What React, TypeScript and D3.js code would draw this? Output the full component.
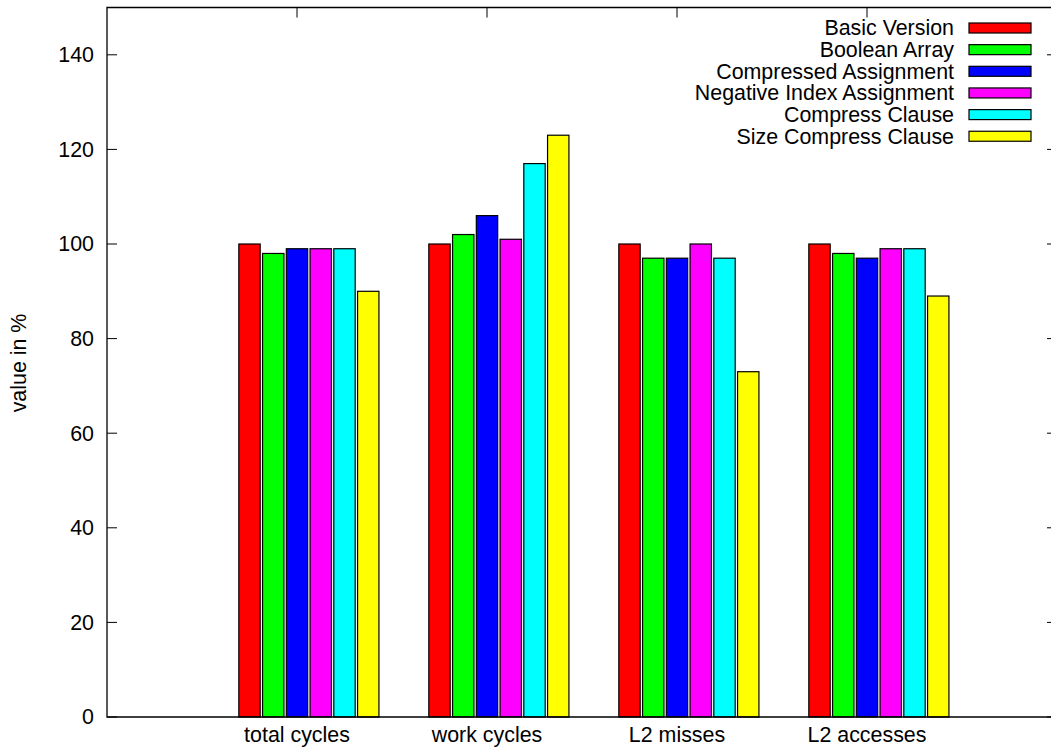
import React from "react";
import * as d3 from "d3";

const categories = ["total cycles", "work cycles", "L2 misses", "L2 accesses"];
const seriesNames = [
  "Basic Version",
  "Boolean Array",
  "Compressed Assignment",
  "Negative Index Assignment",
  "Compress Clause",
  "Size Compress Clause",
];
const seriesColors = ["#ff0000", "#00ff00", "#0000ff", "#ff00ff", "#00ffff", "#ffff00"];
const basicVersion = [100, 100, 100, 100];
const booleanArray = [98, 102, 97, 98];
const compressedAssignment = [99, 106, 97, 97];
const negativeIndexAssignment = [99, 101, 100, 99];
const compressClause = [99, 117, 97, 99];
const sizeCompressClause = [90, 123, 73, 89];
const yTicks = [0, 20, 40, 60, 80, 100, 120, 140];

const seriesValues = [
  basicVersion,
  booleanArray,
  compressedAssignment,
  negativeIndexAssignment,
  compressClause,
  sizeCompressClause,
];

const W = 1051;
const H = 751;
const FONT = "'Liberation Sans', Arial, Helvetica, sans-serif";
const FS = 21.4;

export default function App() {
  const x = d3.scaleLinear().domain([-1, 4]).range([107, 1057]);
  const y = d3.scaleLinear().domain([0, 150]).range([717, 7.5]);
  const unit = x(1) - x(0);
  const slot = 1 / 8;
  const barW = 0.9 * slot * unit;
  const tickLen = 10;
  const left = x(-1);
  const right = x(4);
  const top = y(150);
  const bottom = y(0);

  const legendTextRight = 954;
  const swatchX = 969;
  const swatchW = 62;
  const swatchH = 10;
  const legendY0 = 28;
  const legendStep = 21.65;

  return (
    <svg
      width={W}
      height={H}
      style={{ position: "absolute", left: 0, top: 0, background: "#fff" }}
      fontFamily={FONT}
    >
      <rect x={0} y={0} width={W} height={H} fill="#fff" />
      {yTicks.map((t) => (
        <g key={"yt" + t}>
          <line x1={left} x2={left + tickLen} y1={y(t)} y2={y(t)} stroke="#000" strokeWidth={1} />
          <line x1={right} x2={right - tickLen} y1={y(t)} y2={y(t)} stroke="#000" strokeWidth={1} />
          <text x={94} y={y(t)} dy="0.35em" textAnchor="end" fontSize={FS} fill="#000">
            {t}
          </text>
        </g>
      ))}
      {categories.map((c, i) => (
        <g key={"xt" + c}>
          <line x1={x(i)} x2={x(i)} y1={bottom} y2={bottom - tickLen} stroke="#000" strokeWidth={1} />
          <line x1={x(i)} x2={x(i)} y1={top} y2={top + tickLen} stroke="#000" strokeWidth={1} />
          <text x={x(i)} y={742} textAnchor="middle" fontSize={FS} fill="#000">
            {c}
          </text>
        </g>
      ))}
      {seriesValues.map((vals, s) =>
        vals.map((v, i) => {
          const cx = x(i + (s - 2) * slot);
          return (
            <rect
              key={"b" + s + "_" + i}
              x={cx - barW / 2}
              y={y(v)}
              width={barW}
              height={bottom - y(v)}
              fill={seriesColors[s]}
              stroke="#000"
              strokeWidth={1.2}
            />
          );
        })
      )}
      <path
        d={`M${left},${top}V${bottom}H${right}V${top}Z`}
        fill="none"
        stroke="#000"
        strokeWidth={1.3}
      />
      <text
        transform={`translate(${18},${363}) rotate(-90)`}
        dy="0.35em"
        textAnchor="middle"
        fontSize={FS}
        fill="#000"
      >
        value in %
      </text>
      {seriesNames.map((n, s) => {
        const cy = legendY0 + s * legendStep;
        return (
          <g key={"lg" + n}>
            <text x={legendTextRight} y={cy} dy="0.35em" textAnchor="end" fontSize={FS} fill="#000">
              {n}
            </text>
            <rect
              x={swatchX}
              y={cy - swatchH / 2}
              width={swatchW}
              height={swatchH}
              fill={seriesColors[s]}
              stroke="#000"
              strokeWidth={1.2}
            />
          </g>
        );
      })}
    </svg>
  );
}
